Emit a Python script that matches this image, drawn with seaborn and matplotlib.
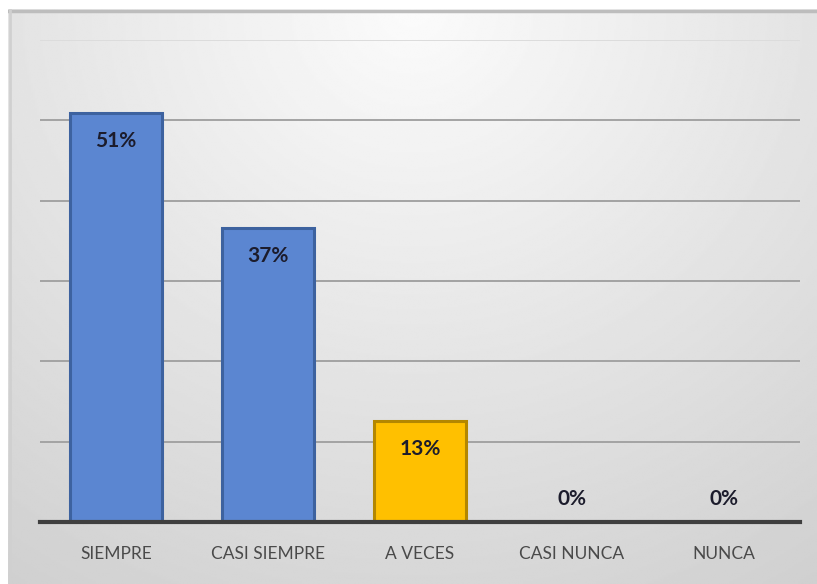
import numpy as np
import pandas as pd
import matplotlib
matplotlib.use("Agg")
import matplotlib.pyplot as plt
import seaborn as sns

# Data
categorias = ["SIEMPRE", "CASI SIEMPRE", "A VECES", "CASI NUNCA", "NUNCA"]
porcentajes = [50.9, 36.6, 12.6, 0.0, 0.0]
etiquetas = ["51%", "37%", "13%", "0%", "0%"]
colores = ["#5B86D1", "#5B86D1", "#FFC000", "#5B86D1", "#5B86D1"]
bordes = ["#3D629F", "#3D629F", "#B48700", "#3D629F", "#3D629F"]

df = pd.DataFrame({"categoria": categorias, "valor": porcentajes})

sns.set_theme(style="white")
plt.rcParams["font.family"] = ["Lato", "DejaVu Sans"]

W, H = 817, 584
fig = plt.figure(figsize=(W / 100, H / 100), dpi=100)
fig.patch.set_facecolor("white")

# radial gray background of the chart area
bg = fig.add_axes([8 / W, 0, 1 - 8 / W, 1 - 9 / H], zorder=0)
yy, xx = np.mgrid[0:1:300j, 0:1:400j]
r = np.sqrt(((xx - 0.5) / 0.8) ** 2 + (yy / 1.05) ** 2)
shade = 0.985 - 0.15 * np.clip(r, 0, 1.2)
bg.imshow(shade, cmap="gray", vmin=0, vmax=1, aspect="auto",
          extent=[0, 1, 1, 0], interpolation="bilinear")
bg.set_xlim(0, 1)
bg.set_ylim(1, 0)
bg.set_axis_off()
bg.plot([0, 1], [0.003, 0.003], color="#BDBDBD", lw=2.5)
bg.plot([0.002, 0.002], [0, 1], color="#D0D0D0", lw=2)

ax = fig.add_axes([40 / W, 1 - 522 / H, 760 / W, 482 / H], zorder=1)
ax.patch.set_alpha(0)

sns.barplot(data=df, x="categoria", y="valor", hue="categoria",
            palette=colores, saturation=1, legend=False, width=0.61,
            ax=ax, zorder=3)

for bar, ec in zip(ax.patches, bordes):
    bar.set_edgecolor(ec)
    bar.set_linewidth(2.2)

ax.set_ylim(0, 60)
ax.set_xlim(-0.5, 4.5)
ax.set_yticks(range(0, 61, 10))
ax.set_yticklabels([])
ax.yaxis.grid(True, color="#A3A3A3", linewidth=1.4, zorder=0)
ax.set_axisbelow(True)
ax.get_ygridlines()[-1].set_color("#DCDCDC")

for s in ["top", "right", "left"]:
    ax.spines[s].set_visible(False)
ax.spines["bottom"].set_color("#3F3F3F")
ax.spines["bottom"].set_linewidth(3)
ax.spines["bottom"].set_zorder(5)

ax.set_xlabel("")
ax.set_ylabel("")
ax.tick_params(axis="x", length=0, pad=17, labelsize=12.5, labelcolor="#4A4A4A")
ax.tick_params(axis="y", length=0)

for i, (v, t) in enumerate(zip(porcentajes, etiquetas)):
    y = v - 3.5 if v > 5 else v + 2.9
    ax.text(i, y, t, ha="center", va="center", fontsize=15,
            fontweight="bold", color="#1C1C2C", zorder=6)

fig.savefig("out.png", dpi=100)
